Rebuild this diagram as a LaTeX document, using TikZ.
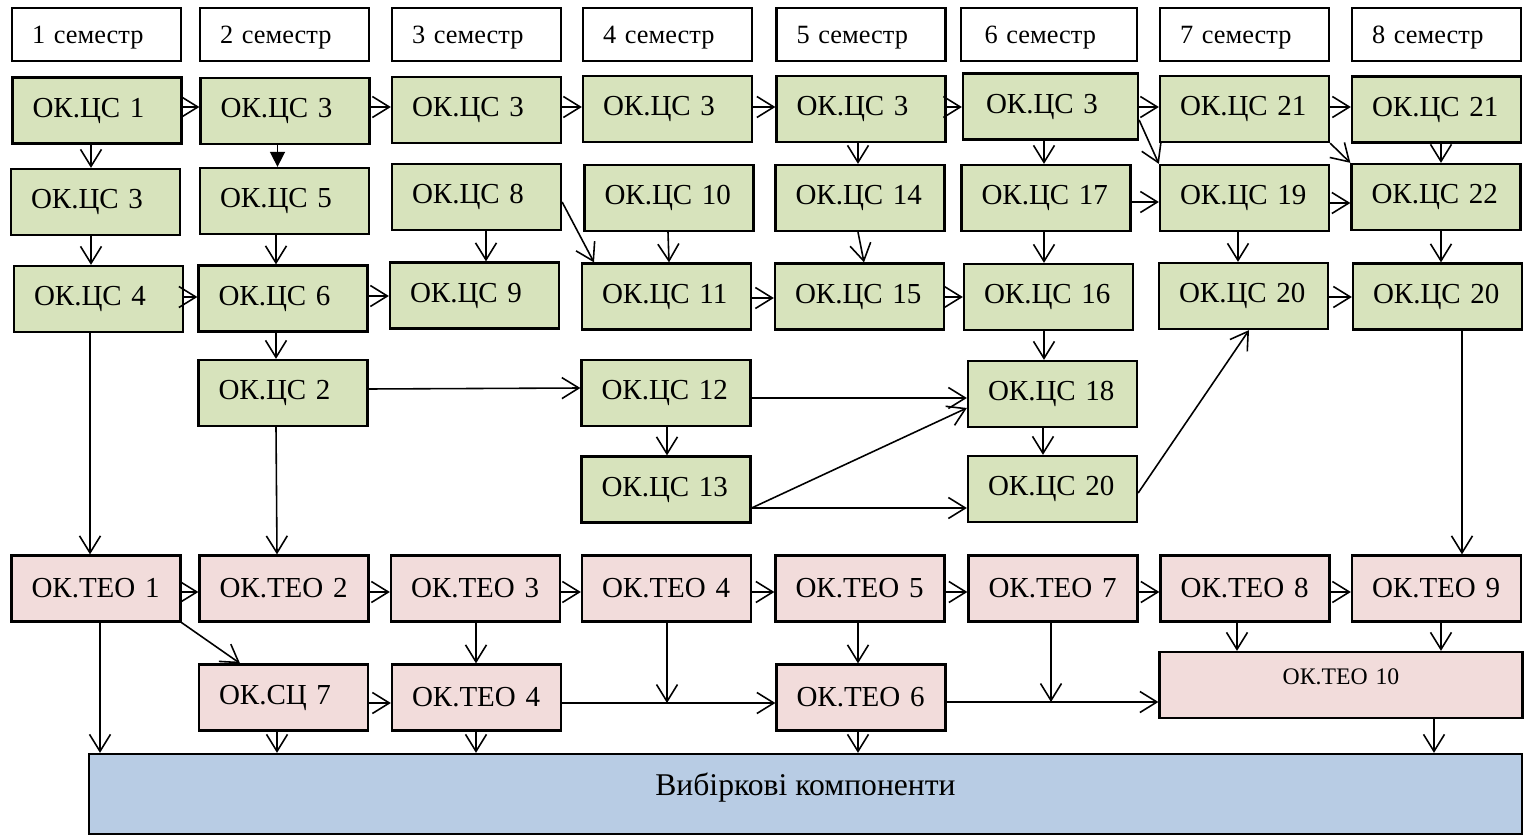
\documentclass[tikz,border=0pt]{standalone}
\usepackage{fontspec}
\setmainfont{Liberation Serif}
\usetikzlibrary{arrows.meta}
\definecolor{csgreen}{HTML}{D7E3BC}
\definecolor{teopink}{HTML}{F2DCDB}
\definecolor{vibblue}{HTML}{B8CCE4}
\tikzset{
  sembox/.style={draw, line width=1.2pt, fill=white, minimum width=3.38cm,
    minimum height=1.06cm, text width=2.58cm, inner xsep=0.4cm, align=left,
    text depth=0pt, font=\fontsize{15}{18}\selectfont},
  csbox/.style={draw, line width=1.3pt, fill=csgreen, minimum width=3.38cm,
    minimum height=1.32cm, text width=2.58cm, inner xsep=0.4cm, align=left,
    font=\fontsize{16.5}{20}\selectfont},
  teobox/.style={csbox, fill=teopink},
  teowide/.style={teobox, minimum width=7.26cm, text width=6.46cm, align=center,
    text depth=0.32cm, font=\fontsize{13.5}{16}\selectfont},
  vibbox/.style={draw, line width=1.3pt, fill=vibblue, minimum width=28.66cm,
    minimum height=1.6cm, text depth=0.4cm, font=\fontsize{18}{22}\selectfont},
  arr/.style={line width=0.9pt, -{Straight Barb[length=0.34cm,width=0.42cm]}},
  farr/.style={line width=0.9pt, -{Triangle[length=0.3cm,width=0.3cm]}},
}
\begin{document}
\begin{tikzpicture}[x=0.02cm,y=-0.02cm]
  \useasboundingbox (0,0) rectangle (1526,838);
  % semesters
  \draw
    (96.5,34.5) node[sembox] (h1){1 семестр}
    (284.5,34.5) node[sembox] (h2){2 семестр}
    (476.5,34.5) node[sembox] (h3){3 семестр}
    (667.5,34.5) node[sembox] (h4){4 семестр}
    (861,34.5) node[sembox] (h5){5 семестр}
    (1049,34.5) node[sembox, minimum width=3.52cm] (h6){6 семестр}
    (1244.5,34.5) node[sembox] (h7){7 семестр}
    (1436.5,34.5) node[sembox] (h8){8 семестр};
  % ОК.ЦС
  \draw
    (97,110.5) node[csbox] (a1){ОК.ЦС~1}
    (285,111) node[csbox] (a2){ОК.ЦС~3}
    (476.5,110) node[csbox] (a3){ОК.ЦС~3}
    (667.5,109) node[csbox] (a4){ОК.ЦС~3}
    (861,109) node[csbox] (a5){ОК.ЦС~3}
    (1050.5,106.5) node[csbox, minimum width=3.5cm] (a6){ОК.ЦС~3}
    (1244.5,109) node[csbox] (a7){ОК.ЦС~21}
    (1436.5,109.5) node[csbox] (a8){ОК.ЦС~21}
    (95.5,202) node[csbox] (b1){ОК.ЦС~3}
    (284.5,201) node[csbox] (b2){ОК.ЦС~5}
    (476.5,197) node[csbox] (b3){ОК.ЦС~8}
    (669,198) node[csbox] (b4){ОК.ЦС~10}
    (860,198) node[csbox] (b5){ОК.ЦС~14}
    (1046,198) node[csbox] (b6){ОК.ЦС~17}
    (1244.5,198) node[csbox] (b7){ОК.ЦС~19}
    (1436,197) node[csbox] (b8){ОК.ЦС~22}
    (98.5,299) node[csbox] (c1){ОК.ЦС~4}
    (283,298.5) node[csbox] (c2){ОК.ЦС~6}
    (474.5,295.5) node[csbox] (c3){ОК.ЦС~9}
    (666.5,296.5) node[csbox] (c4){ОК.ЦС~11}
    (859.5,296.5) node[csbox] (c5){ОК.ЦС~15}
    (1048.5,297) node[csbox] (c6){ОК.ЦС~16}
    (1243.5,296) node[csbox] (c7){ОК.ЦС~20}
    (1437.5,296.5) node[csbox] (c8){ОК.ЦС~20}
    (283,393) node[csbox] (d2){ОК.ЦС~2}
    (666,393) node[csbox] (d4){ОК.ЦС~12}
    (1052.5,394) node[csbox] (d6){ОК.ЦС~18}
    (666,489.5) node[csbox] (e4){ОК.ЦС~13}
    (1052.5,489) node[csbox] (e6){ОК.ЦС~20};
  % ОК.ТЕО
  \draw
    (96,588.5) node[teobox] (t1){ОК.ТЕО~1}
    (284,588.5) node[teobox] (t2){ОК.ТЕО~2}
    (475.5,588.5) node[teobox] (t3){ОК.ТЕО~3}
    (666.5,588.5) node[teobox] (t4){ОК.ТЕО~4}
    (860,588.5) node[teobox] (t5){ОК.ТЕО~5}
    (1053,588.5) node[teobox] (t7){ОК.ТЕО~7}
    (1245,588.5) node[teobox] (t8){ОК.ТЕО~8}
    (1436.5,588.5) node[teobox] (t9){ОК.ТЕО~9}
    (283.5,697.5) node[teobox] (s2){ОК.СЦ~7}
    (476.5,697.5) node[teobox] (s3){ОК.ТЕО~4}
    (861,697.5) node[teobox] (s5){ОК.ТЕО~6}
    (1341,685) node[teowide] (s10){ОК.ТЕО 10}
    (805.5,794) node[vibbox] (vib){Вибіркові компоненти};
  \coordinate (j4) at (667,703);
  \coordinate (j7) at (1051,702);
  \begin{scope}[arr]
    \draw (a1.east |- 0,107) -- (a2.west |- 0,107);
    \draw (a2.east |- 0,107) -- (a3.west |- 0,107);
    \draw (a3.east |- 0,107) -- (a4.west |- 0,107);
    \draw (a4.east |- 0,107) -- (a5.west |- 0,107);
    \draw (a5.east |- 0,107) -- (a6.west |- 0,107);
    \draw (a6.east |- 0,107) -- (a7.west |- 0,107);
    \draw (a7.east |- 0,107) -- (a8.west |- 0,107);
    \draw (a1.south -| 91,0) -- (b1.north -| 91,0);
    \draw[farr] (a2.south -| 277.5,0) -- (b2.north -| 277.5,0);
    \draw (a5.south -| 858,0) -- (b5.north -| 858,0);
    \draw (a6.south -| 1044,0) -- (b6.north -| 1044,0);
    \draw (a8.south -| 1441,0) -- (b8.north -| 1441,0);
    \draw (a6.east |- 0,120) -- (b7.north west);
    \draw (a7.south east) -- (b8.north west);
    \draw (b1.south -| 91,0) -- (c1.north -| 91,0);
    \draw (b2.south -| 276,0) -- (c2.north -| 276,0);
    \draw (b3.south -| 486,0) -- (c3.north -| 486,0);
    \draw (b3.east |- 0,202) -- (c4.north -| 594,0);
    \draw (b4.south -| 668,0) -- (c4.north -| 669,0);
    \draw (b5.south -| 858,0) -- (c5.north -| 864,0);
    \draw (b6.south -| 1044,0) -- (c6.north -| 1044,0);
    \draw (b6.east |- 0,202) -- (b7.west |- 0,202);
    \draw (b7.east |- 0,203) -- (b8.west |- 0,203);
    \draw (b7.south -| 1238,0) -- (c7.north -| 1238,0);
    \draw (b8.south -| 1441,0) -- (c8.north -| 1441,0);
    \draw (c1.east |- 0,297) -- (c2.west |- 0,297);
    \draw (c2.east |- 0,296) -- (c3.west |- 0,296);
    \draw (c4.east |- 0,298) -- (c5.west |- 0,298);
    \draw (c5.east |- 0,297) -- (c6.west |- 0,297);
    \draw (c7.east |- 0,297) -- (c8.west |- 0,297);
    \draw (c1.south -| 90,0) -- (t1.north -| 90,0);
    \draw (c2.south -| 276,0) -- (d2.north -| 276,0);
    \draw (c6.south -| 1044,0) -- (d6.north -| 1044,0);
    \draw (c8.south -| 1462,0) -- (t9.north -| 1462,0);
    \draw (d2.south -| 276,0) -- (t2.north -| 277,0);
    \draw (d2.east |- 0,389) -- (d4.west |- 0,388);
    \draw (d4.east |- 0,398) -- (d6.west |- 0,398);
    \draw (d4.south -| 667,0) -- (e4.north -| 667,0);
    \draw (d6.south -| 1043,0) -- (e6.north -| 1043,0);
    \draw (e4.east |- 0,508) -- (d6.west |- 0,408);
    \draw (e4.east |- 0,508) -- (e6.west |- 0,508);
    \draw (e6.east |- 0,493) -- (c7.south -| 1249,0);
    \draw (t1.east |- 0,592) -- (t2.west |- 0,592);
    \draw (t2.east |- 0,592) -- (t3.west |- 0,592);
    \draw (t3.east |- 0,592) -- (t4.west |- 0,592);
    \draw (t4.east |- 0,592) -- (t5.west |- 0,592);
    \draw (t5.east |- 0,592) -- (t7.west |- 0,592);
    \draw (t7.east |- 0,592) -- (t8.west |- 0,592);
    \draw (t8.east |- 0,592) -- (t9.west |- 0,592);
    \draw (t1.south east) -- (s2.north -| 240,0);
    \draw (t1.south -| 100,0) -- (vib.north -| 100,0);
    \draw (t3.south -| 476,0) -- (s3.north -| 476,0);
    \draw (t4.south -| 667,0) -- (j4);
    \draw (t5.south -| 858,0) -- (s5.north -| 858,0);
    \draw (t7.south -| 1051,0) -- (j7);
    \draw (t8.south -| 1237,0) -- (s10.north -| 1237,0);
    \draw (t9.south -| 1441,0) -- (s10.north -| 1441,0);
    \draw (s2.east |- 0,703) -- (s3.west |- 0,703);
    \draw (s3.east |- 0,703) -- (s5.west |- 0,703);
    \draw (s5.east |- 0,702) -- (s10.west |- 0,702);
    \draw (s2.south -| 277,0) -- (vib.north -| 277,0);
    \draw (s3.south -| 476,0) -- (vib.north -| 476,0);
    \draw (s5.south -| 858,0) -- (vib.north -| 858,0);
    \draw (s10.south -| 1434,0) -- (vib.north -| 1434,0);
  \end{scope}
\end{tikzpicture}
\end{document}
